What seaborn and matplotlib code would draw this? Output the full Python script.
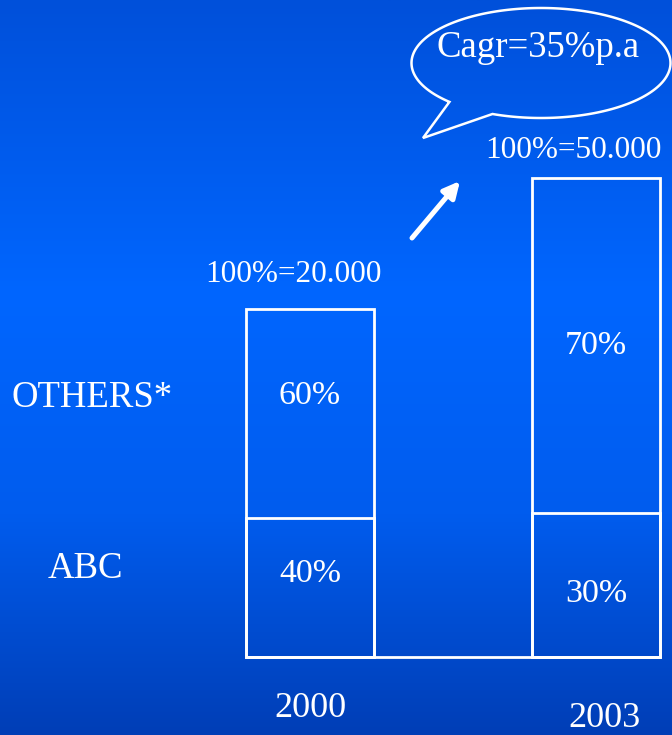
import numpy as np
import pandas as pd
import matplotlib
matplotlib.use("Agg")
import matplotlib.pyplot as plt
from matplotlib.patches import Polygon
import seaborn as sns

# ---- data ----
years = ["2000", "2003"]
abc_share = [40, 30]          # % of market held by ABC
others_share = [60, 70]       # % held by all other players
market_total = ["20.000", "50.000"]
cagr_text = "Cagr=35%p.a"
segment_names = ["OTHERS*", "ABC"]

df = pd.DataFrame({
    "year": years,
    "abc": abc_share,
    "others": others_share,
})
df["total"] = df["abc"] + df["others"]

sns.set_theme(style="white")
plt.rcParams["font.family"] = ["Liberation Serif", "DejaVu Serif"]

W, H = 672, 735
fig = plt.figure(figsize=(W / 100, H / 100), dpi=100)

# background: vertical blue gradient
bg = fig.add_axes([0, 0, 1, 1], zorder=0)
stops = [0.0, 0.40, 0.70, 1.0]
reds = [0, 0, 0, 0]
greens = [80, 102, 92, 62]
blues = [218, 255, 238, 182]
yy = np.linspace(0, 1, 400)
grad = np.stack([np.interp(yy, stops, c) for c in (reds, greens, blues)], axis=-1) / 255
bg.imshow(grad[:, None, :], aspect="auto", extent=[0, 1, 1, 0])
bg.set_xlim(0, 1)
bg.set_ylim(1, 0)
bg.axis("off")

# one axes per year so each stacked column keeps its own 100 % height
bar_w = 0.45
x0_px, unit_px, base_px = 310, 286, 78
col_px = [348, 479]
# nudges (points) for the segment labels: (others, abc)
seg_nudge = [(13, 10), (0, -6)]
ax_a = fig.add_axes([0, 0, 1, 1], zorder=2)
ax_b = ax_a.twinx()
ax_b.set_zorder(3)
axes = [ax_a, ax_b]

for i, (ax, yr) in enumerate(zip(axes, years)):
    sub = df[df["year"] == yr]
    sns.barplot(data=sub, x="year", y="total", order=years, ax=ax,
                fill=False, color="white", linewidth=2.0, width=bar_w)
    sns.barplot(data=sub, x="year", y="abc", order=years, ax=ax,
                fill=False, color="white", linewidth=2.0, width=bar_w)
    ax.set_xlim(-x0_px / unit_px, (W - x0_px) / unit_px)
    per = 100 / col_px[i]
    ax.set_ylim(-base_px * per, (H - base_px) * per)
    ax.patch.set_alpha(0)
    ax.axis("off")

    total = sub["total"].iloc[0]
    abc = sub["abc"].iloc[0]
    oth = sub["others"].iloc[0]
    # segment labels
    ax.annotate(f"{oth}%", xy=(i, abc + oth / 2), xytext=(0, seg_nudge[i][0]),
                textcoords="offset points", ha="center", va="center",
                color="white", fontsize=24.5)
    ax.annotate(f"{abc}%", xy=(i, abc / 2), xytext=(0, seg_nudge[i][1]),
                textcoords="offset points", ha="center", va="center",
                color="white", fontsize=24.5)
    # column total label
    ax.annotate(f"{total}%={market_total[i]}", xy=(i, total),
                xytext=(-12 if i == 0 else -16, 24.5 if i == 0 else 20),
                textcoords="offset points", ha="center", va="center",
                color="white", fontsize=22.5)

# baseline under both columns
ax_a.hlines(0, 0 - bar_w / 2, len(years) - 1 + bar_w / 2, color="white", lw=2.0)

# year labels
ax_a.annotate(years[0], xy=(0, 0), xytext=(0, -37), textcoords="offset points",
              ha="center", va="center", color="white", fontsize=26)
ax_a.annotate(years[1], xy=(1, 0), xytext=(6, -44.5), textcoords="offset points",
              ha="center", va="center", color="white", fontsize=26)

# overlay in pixel units for the row labels, growth arrow and speech bubble
ov = fig.add_axes([0, 0, 1, 1], zorder=4)
ov.set_xlim(0, W)
ov.set_ylim(H, 0)
ov.patch.set_alpha(0)
ov.axis("off")

ov.text(92, 398, segment_names[0], ha="center", va="center", color="white", fontsize=26.5)
ov.text(85, 569, segment_names[1], ha="center", va="center", color="white", fontsize=26.5)

ov.annotate("", xy=(460, 181), xytext=(412, 238),
            arrowprops=dict(arrowstyle="-|>", color="white", lw=3.6,
                            mutation_scale=24, shrinkA=0, shrinkB=0))

# speech bubble: ellipse with an open gap joined to a pointed tail
cx, cy, a, b = 541, 63, 129.5, 55
t = np.deg2rad(np.linspace(112, -225, 300))
arc = np.column_stack([cx + a * np.cos(t), cy + b * np.sin(t)])
tip = np.array([[423, 138]])
pts = np.vstack([arc, tip])
ov.add_patch(Polygon(pts, closed=True, facecolor="none", edgecolor="white", lw=1.8))
ov.text(538, 48, cagr_text, ha="center", va="center", color="white", fontsize=26.5)

fig.savefig("out.png", dpi=100)
